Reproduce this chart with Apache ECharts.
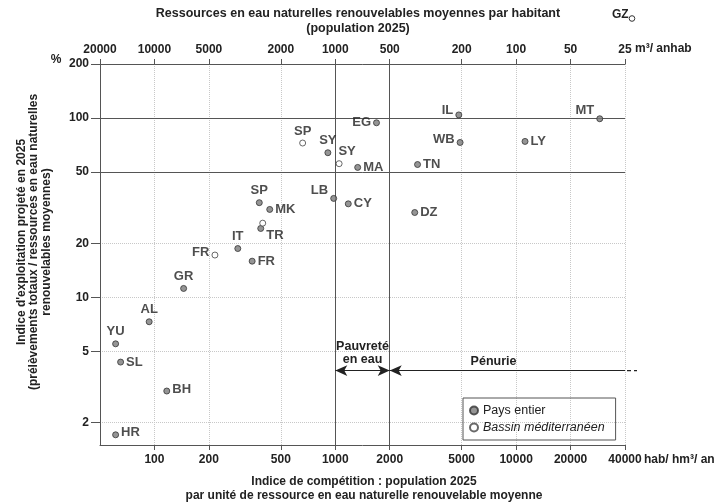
<!DOCTYPE html>
<html><head><meta charset="utf-8">
<script src="https://cdn.jsdelivr.net/npm/echarts@6/dist/echarts.min.js"></script>
<style>html,body{margin:0;padding:0;background:#fff}#c{width:717px;height:504px}</style>
</head><body><div id="c"></div>
<script>
// ---- data ----
const countryCodes = ['IL','MT','EG','WB','LY','SY','MA','TN','LB','CY','DZ','SP','MK','TR','IT','FR','GR','AL','YU','SL','BH','HR'];
const countryX = [4820, 29000, 1690, 4900, 11200, 910, 1330, 2850, 980, 1180, 2750, 380, 434, 387, 289, 347, 145, 93.5, 61, 65, 117, 61];
const countryY = [104, 99, 94, 73, 74, 64, 53, 55, 35.6, 33.2, 29.7, 33.7, 30.9, 24.2, 18.7, 15.9, 11.2, 7.3, 5.5, 4.35, 3.0, 1.71];
const basinCodes = ['SP','SY','TR','FR'];
const basinX = [660, 1050, 397, 216];
const basinY = [72.5, 55.6, 25.9, 17.2];
const bottomTicks = [100, 200, 500, 1000, 2000, 5000, 10000, 20000, 40000];
const bottomTickLabels = ['100','200','500','1000','2000','5000','10000','20000','40000'];
const topTicks = [50, 100, 200, 500, 1000, 2000, 5000, 10000, 20000, 40000];
const topTickLabels = ['20000','10000','5000','2000','1000','500','200','100','50','25'];
const yTicks = [2, 5, 10, 20, 50, 100, 200];
const yTickLabels = ['2','5','10','20','50','100','200'];
const thresholdX = [1000, 2000];
const thresholdY = [50, 100];
const arrowLevel = 3.9;
const penurieLabelAt = 7500;

// ---- styles ----
const FONT = '"Liberation Sans", Arial, Helvetica, sans-serif';
const TXT = '#222';
const labelPlace = {
  country: { IL:['left',[0,-4]], MT:['left',[0,-8]], EG:['left',[0,0]], WB:['left',[0,-3]], LY:['right',[0,0]],
    SY:['top',[0,0]], MA:['right',[0,0]], TN:['right',[0,0]], LB:['left',[0,-8]], CY:['right',[0,0]], DZ:['right',[0,0]],
    SP:['top',[0,0]], MK:['right',[0,0]], TR:['right',[0,7]], IT:['top',[0,0]], FR:['right',[0,0]], GR:['top',[0,0]],
    AL:['top',[0,0]], YU:['top',[0,0]], SL:['right',[0,0]], BH:['right',[0,-2]], HR:['right',[0,-2]] },
  basin: { SP:['top',[0,0]], SY:['top',[8,0]], TR:null, FR:['left',[0,-3]] }
};
function pts(codes, xs, ys, place) {
  return codes.map((c, i) => {
    const p = place[c];
    return { name: c, value: [xs[i], ys[i]],
      label: p ? { show: true, position: p[0], offset: p[1] } : { show: false } };
  });
}
function tickLabel(ticks, labels) {
  return v => {
    const i = ticks.findIndex(t => Math.abs(Math.log10(t) - Math.log10(v)) < 1e-6);
    return i >= 0 ? labels[i] : '';
  };
}
const ptLabel = { show: true, formatter: p => p.name, fontFamily: FONT, fontWeight: 'bold', fontSize: 13, color: TXT, distance: 2 };
const axLabel = { fontFamily: FONT, fontWeight: 'bold', fontSize: 12, color: TXT };
const axLine = { show: true, onZero: false, lineStyle: { color: '#555', width: 1 } };
const gridLine = { show: true, lineStyle: { color: '#c8c8c8', type: 'dotted', width: 1 } };

const chart = echarts.init(document.getElementById('c'));
const option = {
  animation: false,
  backgroundColor: '#fff',
  grid: { left: 100, right: 92, top: 64, bottom: 59, containLabel: false },
  xAxis: [
    { type: 'log', min: 50, max: 40000, position: 'bottom',
      axisLine: axLine,
      axisTick: { show: true, customValues: bottomTicks, length: 5, lineStyle: { color: '#555' } },
      axisLabel: Object.assign({ customValues: bottomTicks, formatter: tickLabel(bottomTicks, bottomTickLabels), margin: 9 }, axLabel),
      splitLine: gridLine, minorTick: { show: false }, minorSplitLine: { show: false } },
    { type: 'log', min: 50, max: 40000, position: 'top',
      axisLine: axLine,
      axisTick: { show: true, customValues: topTicks, length: 5, lineStyle: { color: '#555' } },
      axisLabel: Object.assign({ customValues: topTicks, formatter: tickLabel(topTicks, topTickLabels), margin: 8 }, axLabel),
      splitLine: { show: false } }
  ],
  yAxis: [
    { type: 'log', min: 1.5, max: 200,
      axisLine: axLine,
      axisTick: { show: true, customValues: yTicks, length: 9, lineStyle: { color: '#555' } },
      axisLabel: Object.assign({ customValues: yTicks, formatter: tickLabel(yTicks, yTickLabels), margin: 11, padding: [0, 0, 8, 0] }, axLabel),
      splitLine: gridLine }
  ],
  legend: {
    data: ['Pays entier', 'Bassin méditerranéen'], orient: 'vertical', left: 463, top: 398,
    itemWidth: 8, itemHeight: 8, itemGap: 4, padding: [6, 11, 6, 6],
    borderColor: '#555', borderWidth: 1, selectedMode: false,
    textStyle: { fontFamily: FONT, fontSize: 12.5, color: TXT,
      rich: { i: { fontStyle: 'italic', fontFamily: FONT, fontSize: 12.5, color: TXT } } },
    formatter: n => n === 'Bassin méditerranéen' ? '{i|' + n + '}' : n
  },
  series: [
    { name: 'Pays entier', type: 'scatter', xAxisIndex: 0, yAxisIndex: 0, symbol: 'circle', symbolSize: 6,
      itemStyle: { color: '#7a7a7a', borderColor: '#333', borderWidth: 1 }, label: ptLabel, z: 5,
      data: pts(countryCodes, countryX, countryY, labelPlace.country),
      markLine: {
        silent: true, symbol: 'none', symbolSize: [8, 12], animation: false,
        label: { show: false },
        lineStyle: { color: '#555', width: 1, type: 'solid' },
        data: [
          ...thresholdX.map(v => ({ xAxis: v })),
          ...thresholdY.map(v => ({ yAxis: v })),
          [ { coord: [thresholdX[0], arrowLevel], symbol: 'arrow',
              lineStyle: { color: '#222', width: 1.2 },
              label: { show: true, formatter: 'Pauvreté\nen eau', position: 'insideMiddleTop', distance: 5,
                fontFamily: FONT, fontWeight: 'bold', fontSize: 12.5, lineHeight: 13, color: TXT } },
            { coord: [thresholdX[1], arrowLevel], symbol: 'arrow' } ],
          [ { coord: [thresholdX[1], arrowLevel], symbol: 'arrow', lineStyle: { color: '#222', width: 1.2 } },
            { coord: [40000, arrowLevel], symbol: 'none' } ]
        ]
      },
      markPoint: {
        silent: true, animation: false,
        data: [ { coord: [penurieLabelAt, arrowLevel], symbol: 'circle', symbolSize: 0,
          label: { show: true, position: 'top', distance: 3, formatter: 'Pénurie',
            fontFamily: FONT, fontWeight: 'bold', fontSize: 12.5, color: TXT } } ]
      }
    },
    { name: 'Bassin méditerranéen', type: 'scatter', xAxisIndex: 0, yAxisIndex: 0, symbol: 'circle', symbolSize: 6,
      itemStyle: { color: '#fff', borderColor: '#444', borderWidth: 1 }, label: ptLabel, z: 6,
      data: pts(basinCodes, basinX, basinY, labelPlace.basin) }
  ]
};
chart.setOption(option);

// decorative texts and axis units
const tb = { fontFamily: FONT, fontWeight: 'bold', fontSize: 12, fill: TXT };
const tbig = Object.assign({}, tb, { fontSize: 12.5 });
const endPx = chart.convertToPixel({ xAxisIndex: 0, yAxisIndex: 0 }, [40000, arrowLevel]);
const yTop = chart.convertToPixel({ yAxisIndex: 0 }, 200);
chart.setOption({
  graphic: [
    { type: 'text', x: 358, y: 14, style: Object.assign({ text: 'Ressources en eau naturelles renouvelables moyennes par habitant', align: 'center', verticalAlign: 'middle' }, tbig) },
    { type: 'text', x: 358, y: 29, style: Object.assign({ text: '(population 2025)', align: 'center', verticalAlign: 'middle' }, tbig) },
    { type: 'text', x: 612, y: 15, style: Object.assign({ text: 'GZ', align: 'left', verticalAlign: 'middle' }, tb) },
    { type: 'circle', shape: { cx: 632, cy: 18.5, r: 2.8 }, style: { fill: '#fff', stroke: '#333', lineWidth: 1 } },
    { type: 'text', x: endPx[0] + 10, y: yTop - 15, style: Object.assign({ text: 'm³/ anhab', align: 'left', verticalAlign: 'middle' }, tb) },
    { type: 'text', x: endPx[0] + 19, y: 460, style: Object.assign({ text: 'hab/ hm³/ an', align: 'left', verticalAlign: 'middle' }, tb) },
    { type: 'text', x: 56, y: 60, style: Object.assign({ text: '%', align: 'center', verticalAlign: 'middle' }, tb) },
    { type: 'text', x: 364, y: 482, style: Object.assign({ text: 'Indice de compétition : population 2025', align: 'center', verticalAlign: 'middle' }, tb) },
    { type: 'text', x: 364, y: 496, style: Object.assign({ text: 'par unité de ressource en eau naturelle renouvelable moyenne', align: 'center', verticalAlign: 'middle' }, tb) },
    { type: 'text', x: 34, y: 242, rotation: Math.PI / 2,
      style: Object.assign({ text: "Indice d'exploitation projeté en 2025\n(prélèvements totaux / ressources en eau naturelles\nrenouvelables moyennes)", align: 'center', verticalAlign: 'middle', lineHeight: 12.5 }, tb) },
    { type: 'line', shape: { x1: endPx[0] + 2, y1: endPx[1], x2: endPx[0] + 12, y2: endPx[1] },
      style: { stroke: '#222', lineWidth: 1.2, lineDash: [4, 3] } }
  ]
});
</script></body></html>
